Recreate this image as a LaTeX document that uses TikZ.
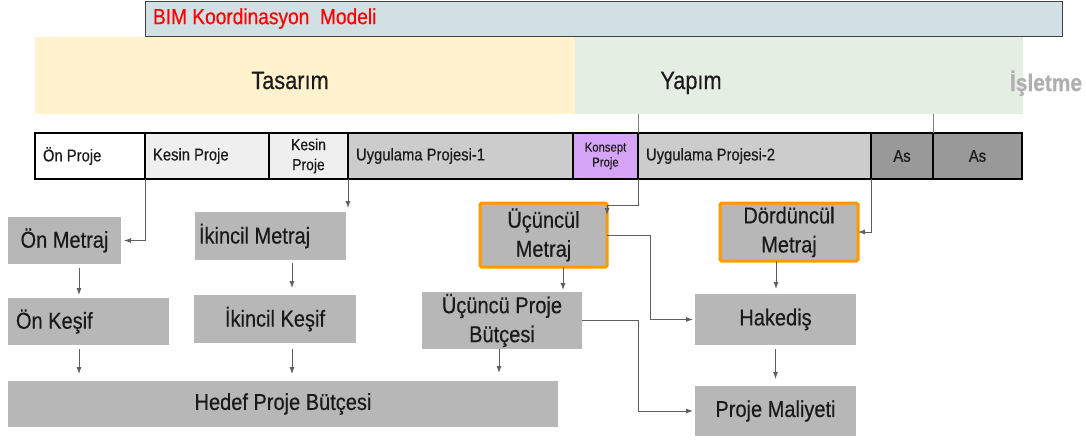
\documentclass[tikz,border=0pt]{standalone}
\usepackage{fontspec}
\setmainfont{Liberation Sans}[FakeStretch=0.87, FakeBold=0.4]
\usetikzlibrary{arrows.meta,calc}
\definecolor{bimblue}{HTML}{D0E0E3}
\definecolor{tasyel}{HTML}{FFF2CC}
\definecolor{yapgreen}{HTML}{E5EEE2}
\definecolor{lgray}{HTML}{EFEFEF}
\definecolor{mgray}{HTML}{CCCCCC}
\definecolor{dgray}{HTML}{999999}
\definecolor{boxgray}{HTML}{B7B7B7}
\definecolor{konsept}{HTML}{D6A4F7}
\definecolor{orng}{HTML}{FF9900}
\definecolor{arrgray}{HTML}{5F5F5F}
\definecolor{islgray}{HTML}{AFAFAF}
\definecolor{txt}{HTML}{1A1A1A}
\begin{document}
\begin{tikzpicture}[x=1pt,y=-1pt,
  every node/.style={inner sep=0pt, outer sep=0pt, text=txt},
  band/.style={minimum height=77pt},
  phase/.style={draw=black, line width=1.8pt, minimum height=46pt, font=\fontsize{17}{20}\selectfont},
  gbox/.style={fill=boxgray, font=\fontsize{23}{29}\selectfont, align=flush center},
  obox/.style={gbox, draw=orng, line width=3pt, rounded corners=1.5pt},
  arr/.style={draw=arrgray, line width=0.9pt, -{Latex[length=7pt,width=5pt]}},
  ln/.style={draw=arrgray!80, line width=0.8pt}
]
\useasboundingbox[fill=white] (0,0) rectangle (1086,439);

% bands
\node[fill=tasyel, band, minimum width=540pt] (tas) at (305,75.5) {};
\node[fill=yapgreen, band, minimum width=448pt] (yap) at (799,75.5) {};
\node[anchor=base, font=\fontsize{25}{28}\selectfont] (tast) at (290,89) {Tasarım};
\node[anchor=base, font=\fontsize{25}{28}\selectfont] (yapt) at (691,89) {Yapım};
\node[anchor=base east, font=\fontsize{24}{28}\selectfont\bfseries, text=islgray] (isl) at (1082,91) {İşletme};
\node[fill=bimblue, draw=black!75, line width=1pt, minimum height=35pt, text width=901pt, inner xsep=8pt, align=flush left, text=red, font=\fontsize{22}{24}\selectfont] (bim) at (603.5,18.5) {BIM Koordinasyon\ \ Modeli};

% phase row
\node[phase, fill=white, text width=94pt, inner xsep=8pt, align=flush left] (onp) at (90,156) {Ön Proje};
\node[phase, fill=lgray, text width=108pt, inner xsep=8pt, align=flush left] (kp1) at (207,156) {Kesin Proje};
\node[phase, fill=lgray, minimum width=79pt, align=flush center, font=\fontsize{16}{20}\selectfont] (kp2) at (308.5,156) {Kesin\\Proje};
\node[phase, fill=mgray, text width=209pt, inner xsep=8pt, align=flush left] (up1) at (460.5,156) {Uygulama Projesi-1};
\node[phase, fill=konsept, minimum width=65pt, align=flush center, font=\fontsize{13}{15}\selectfont] (kon) at (605.5,156) {Konsept\\Proje};
\node[phase, fill=mgray, text width=217pt, inner xsep=8pt, align=flush left] (up2) at (754.5,156) {Uygulama Projesi-2};
\node[phase, fill=dgray, minimum width=62pt] (as1) at (902,156) {As};
\node[phase, fill=dgray, minimum width=89pt] (as2) at (977.5,156) {As};

\draw[ln] (yap.south -| up2.north west) -- (up2.north west);
\draw[ln] (yap.south -| as2.north west) -- (as2.north west);

% lower boxes
\node[gbox, minimum width=113pt, minimum height=47pt] (om) at (64.5,240.5) {Ön Metraj};
\node[gbox, text width=145pt, inner xsep=8pt, align=flush left, minimum height=47pt] (ok) at (88.5,321.5) {Ön Keşif};
\node[gbox, text width=143pt, inner xsep=4pt, align=flush left, minimum height=48pt] (im) at (270.5,236) {İkincil Metraj};
\node[gbox, minimum width=162pt, minimum height=48pt] (ik) at (275,319) {İkincil Keşif};
\node[gbox, minimum width=550pt, minimum height=46pt] (hd) at (283,404) {Hedef Proje Bütçesi};
\node[obox, minimum width=127pt, minimum height=64pt] (um) at (543.5,235) {Üçüncül\\Metraj};
\node[gbox, minimum width=160pt, minimum height=57pt] (upb) at (502,320.5) {Üçüncü Proje\\Bütçesi};
\node[obox, minimum width=138pt, minimum height=58pt] (dm) at (789,232) {Dördüncül\\Metraj};
\node[gbox, minimum width=161pt, minimum height=51pt] (hk) at (775.5,319.5) {Hakediş};
\node[gbox, minimum width=161pt, minimum height=50pt] (pm) at (775.5,411) {Proje Maliyeti};

% connectors
\draw[arr, shorten >=3pt] (kp1.south west) |- (om.east);
\draw[arr, shorten >=4pt] (kp2.south east) -- (kp2.south east |- im.north);
\draw[arr] (up2.south west) |- ($(um.north east)+(0,2)$) -- ($(um.north east)+(0,12)$);
\draw[arr] (up2.south east) |- (dm.east);
\draw[arr, shorten >=2pt] (um.east) -- ++(43,0) |- (hk.west);
\draw[arr, shorten >=2pt] ([xshift=19.5pt]um.south) -- ([xshift=61pt]upb.north);
\draw[arr, shorten >=2pt] (upb.east) -- ++(56,0) |- (pm.west);
\draw[arr, shorten >=5pt] ([xshift=-13pt]dm.south) -- ([xshift=0.5pt]hk.north);
\draw[arr, shorten <=4pt, shorten >=7pt] (hk.south) -- (pm.north);
\draw[arr, shorten >=8pt] ([xshift=-3pt]upb.south) -- ([xshift=216pt]hd.north);
\draw[arr, shorten <=4pt, shorten >=3pt] ([xshift=14.5pt]om.south) -- ([xshift=-9.5pt]ok.north);
\draw[arr, shorten <=4pt, shorten >=7pt] ([xshift=-9.5pt]ok.south) -- ([xshift=-204pt]hd.north);
\draw[arr, shorten <=3pt, shorten >=7pt] ([xshift=21.5pt]im.south) -- ([xshift=17pt]ik.north);
\draw[arr, shorten <=6pt, shorten >=7pt] ([xshift=17pt]ik.south) -- ([xshift=9pt]hd.north);
\end{tikzpicture}
\end{document}
